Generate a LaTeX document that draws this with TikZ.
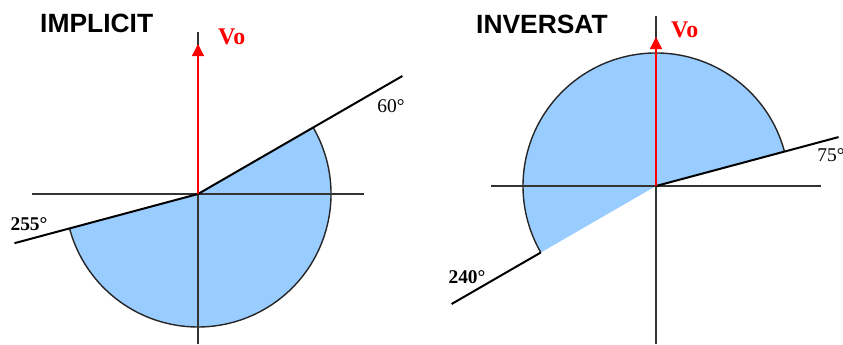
\documentclass[tikz,border=0pt]{standalone}
\usepackage{fontspec}
\setmainfont{Liberation Serif}
\newfontfamily\titlefont{Liberation Sans}
\usetikzlibrary{arrows.meta,calc}
\definecolor{sectorblue}{RGB}{153,204,255}
\definecolor{vored}{RGB}{255,0,0}
\tikzset{
  axisline/.style={draw=black!80, line width=1.3bp},
  angleline/.style={draw=black, line width=2bp},
  arcline/.style={draw=black!85, line width=1.4bp},
  voarrow/.style={draw=vored, line width=1.4bp, -{Triangle[width=12bp,length=12bp]}},
  titletext/.style={font=\titlefont\fontsize{26.5}{30}\selectfont\bfseries, anchor=base west, inner sep=0pt},
  votext/.style={font=\fontsize{24}{28}\selectfont\bfseries, text=vored, anchor=base west, inner sep=0pt},
  degtext/.style={font=\fontsize{19.5}{22}\selectfont, inner sep=0pt},
  degbold/.style={font=\fontsize{19.5}{22}\selectfont\bfseries, inner sep=0pt}
}
\begin{document}
\begin{tikzpicture}[x=1bp,y=1bp]
\useasboundingbox (0,0) rectangle (843,344);
% ---------- IMPLICIT ----------
\coordinate (OL) at (198,150);
\coordinate (LA1) at ($(OL)+(30:133)$);
\coordinate (LA2) at ($(OL)+(195:133)$);
\coordinate (L60) at ($(OL)+(30:236)$);
\coordinate (L255) at ($(OL)+(195:190)$);
\coordinate (LxW) at (32,150);
\coordinate (LxE) at (364,150);
\coordinate (LyN) at (198,312);
\coordinate (LyS) at (198,0);
\coordinate (LvoTip) at (198,300);
\fill[sectorblue] (OL) -- (LA1) arc[start angle=30, end angle=-165, radius=133] -- cycle;
\draw[arcline] (LA1) arc[start angle=30, end angle=-165, radius=133];
\draw[axisline] (LxW) -- (LxE);
\draw[axisline] (LyN) -- (LyS);
\draw[angleline] (OL) -- (L60);
\draw[angleline] (OL) -- (L255);
\draw[voarrow] (OL) -- (LvoTip);
\node[titletext] (tL) at (40,312) {IMPLICIT};
\node[votext] (voL) at (218,300) {Vo};
\node[degtext] (d60) at (391,238) {60°};
\node[degbold] (d255) at (29,120) {255°};
% ---------- INVERSAT ----------
\coordinate (OR) at (656,158);
\coordinate (RA1) at ($(OR)+(15:133)$);
\coordinate (RA2) at ($(OR)+(210:133)$);
\coordinate (R75) at ($(OR)+(15:189)$);
\coordinate (R240) at ($(OR)+(210:236)$);
\coordinate (RxW) at (491,158);
\coordinate (RxE) at (821,158);
\coordinate (RyN) at (656,328);
\coordinate (RyS) at (656,0);
\coordinate (RvoTip) at (656,307);
\fill[sectorblue] (OR) -- (RA1) arc[start angle=15, end angle=210, radius=133] -- cycle;
\draw[arcline] (RA1) arc[start angle=15, end angle=210, radius=133];
\draw[axisline] (RxW) -- (RxE);
\draw[axisline] (RyN) -- (RyS);
\draw[angleline] (OR) -- (R75);
\draw[angleline] (RA2) -- (R240);
\draw[voarrow] (OR) -- (RvoTip);
\node[titletext] (tR) at (476,311) {INVERSAT};
\node[votext] (voR) at (671,307) {Vo};
\node[degtext] (d75) at (831,189) {75°};
\node[degbold] (d240) at (467,67) {240°};
\end{tikzpicture}
\end{document}
